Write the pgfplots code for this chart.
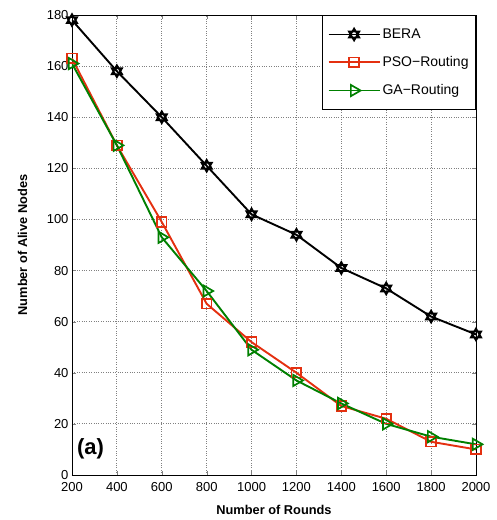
\documentclass[border=0pt]{standalone}
\usepackage{fontspec}
\setmainfont{Liberation Sans}
\usepackage{pgfplots}
\pgfplotsset{compat=1.18}
\definecolor{psored}{RGB}{228,48,16}
\definecolor{gagreen}{RGB}{0,128,0}
% six-pointed star (two triangles)
\pgfdeclareplotmark{hexagram}{%
  \pgfpathmoveto{\pgfqpointpolar{90}{\pgfplotmarksize}}%
  \pgfpathlineto{\pgfqpointpolar{210}{\pgfplotmarksize}}%
  \pgfpathlineto{\pgfqpointpolar{330}{\pgfplotmarksize}}%
  \pgfpathclose
  \pgfpathmoveto{\pgfqpointpolar{270}{\pgfplotmarksize}}%
  \pgfpathlineto{\pgfqpointpolar{30}{\pgfplotmarksize}}%
  \pgfpathlineto{\pgfqpointpolar{150}{\pgfplotmarksize}}%
  \pgfpathclose
  \pgfusepathqstroke}
\begin{document}
\begin{tikzpicture}
\begin{axis}[
  name=ax, at={(0,0)}, anchor=south west,
  scale only axis,
  width=404pt, height=460pt,
  xmin=200, xmax=2000, ymin=0, ymax=180,
  xtick={200,400,...,2000}, ytick={0,20,...,180},
  tick align=inside,
  xmajorgrids, ymajorgrids,
  grid style={dotted, gray, line width=0.8pt},
  axis line style={line width=0.9pt},
  tick label style={font=\fontsize{13}{15}\selectfont},
  xticklabel style={yshift=-4pt},
  /pgf/number format/assume math mode=true,
  /pgf/number format/1000 sep={},
  xlabel={\textbf{Number of Rounds}},
  ylabel={\textbf{Number of Alive Nodes}},
  label style={font=\fontsize{12.8}{15}\selectfont},
  xlabel style={at={(axis description cs:0.5,-0.058)}, anchor=north},
  ylabel style={at={(axis description cs:-0.102,0.5)}, anchor=south},
  legend style={at={(1,1)}, anchor=north east, font=\fontsize{14}{16}\selectfont,
    draw=black, line width=0.9pt, row sep=12.5pt, inner xsep=5pt, inner ysep=11.5pt,
    cells={anchor=west}},
  legend image post style={line width=1.9pt},
  legend image code/.code={\draw[#1] (0pt,0pt) -- (51pt,0pt) plot[mark repeat=1] coordinates {(25.5pt,0pt)};},
]
\addplot[black, line width=1.9pt, mark=hexagram, mark size=6pt, mark options={line width=1.7pt}]
  coordinates {(200,178)(400,158)(600,140)(800,121)(1000,102)(1200,94)(1400,81)(1600,73)(1800,62)(2000,55)};
\addplot[psored, line width=1.9pt, mark=square, mark size=4.8pt, mark options={line width=1.7pt}]
  coordinates {(200,163)(400,129)(600,99)(800,67)(1000,52)(1200,40)(1400,27)(1600,22)(1800,13)(2000,10)};
\addplot[gagreen, line width=1.9pt, mark=triangle, mark size=6.5pt, mark options={line width=1.7pt, rotate=-90}]
  coordinates {(200,161)(400,129)(600,93)(800,72)(1000,49)(1200,37)(1400,28)(1600,20)(1800,15)(2000,12)};
\legend{BERA, PSO−Routing, GA−Routing}
\node[font=\bfseries\fontsize{22}{24}\selectfont, anchor=base west, inner sep=0pt] at (axis cs:222,8) {(a)};
\end{axis}
\pgfresetboundingbox
\path[use as bounding box] (-72pt,-45pt) rectangle (425pt,475pt);
\end{tikzpicture}
\end{document}
